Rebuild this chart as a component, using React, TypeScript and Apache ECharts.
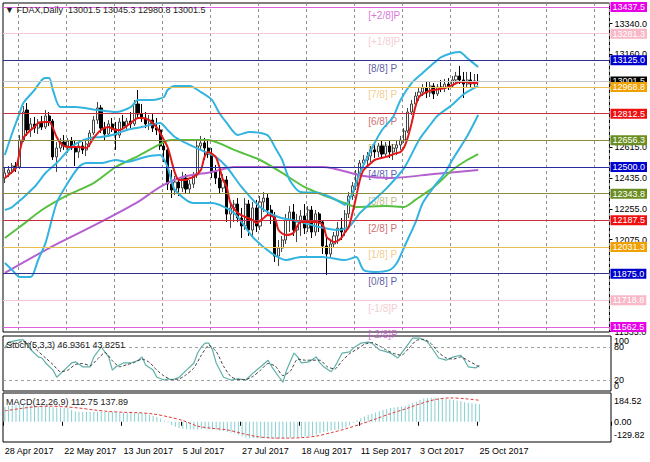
import React, { useEffect, useRef } from 'react';
import * as echarts from 'echarts';

// ---------- data ----------
const symbolName = 'FDAX,Daily';
const xTickLabels = ['28 Apr 2017', '22 May 2017', '13 Jun 2017', '5 Jul 2017', '27 Jul 2017', '18 Aug 2017', '11 Sep 2017', '3 Oct 2017', '25 Oct 2017'];
const BARS_PER_LABEL = 16;
const SLOT_COUNT = 164;

const opens = [
  12435, 12465, 12482, 12506, 12500, 12658, 12834, 12717, 12752, 12728,
  12764, 12734, 12799, 12769, 12559, 12611, 12646, 12623, 12652, 12611,
  12588, 12623, 12600, 12635, 12699, 12775, 12846, 12728, 12693, 12752,
  12723, 12687, 12764, 12740, 12769, 12752, 12869, 12810, 12787, 12752,
  12775, 12728, 12717, 12623, 12600, 12400, 12365, 12412, 12377, 12435,
  12371, 12400, 12453, 12623, 12641, 12611, 12576, 12471, 12435, 12377,
  12424, 12224, 12260, 12283, 12201, 12154, 12283, 12131, 12260, 12154,
  12295, 12318, 12248, 12213, 11978, 12025, 12072, 12189, 12236, 12131,
  12178, 12213, 12142, 12248, 12119, 12225, 12178, 12037, 11990, 12049,
  12096, 12142, 12119, 12225, 12330, 12389, 12459, 12523, 12541, 12564,
  12600, 12588, 12623, 12576, 12623, 12588, 12611, 12629, 12658, 12711,
  12822, 12869, 12916, 12939, 12963, 12934, 12975, 12928, 12969, 12963,
  12986, 12975, 13010, 13033, 13010, 12986, 13010, 12986, 13001.5,
];
const highs = [
  12494, 12506, 12523, 12529, 12687, 12857, 12875, 12787, 12793, 12781,
  12799, 12834, 12822, 12781, 12646, 12670, 12687, 12670, 12676, 12658,
  12641, 12646, 12652, 12717, 12799, 12881, 12863, 12764, 12775, 12787,
  12764, 12787, 12805, 12787, 12822, 12893, 12951, 12869, 12822, 12805,
  12810, 12787, 12746, 12670, 12623, 12482, 12447, 12435, 12471, 12459,
  12424, 12471, 12658, 12682, 12670, 12658, 12611, 12512, 12482, 12459,
  12447, 12295, 12307, 12318, 12260, 12318, 12307, 12295, 12307, 12330,
  12353, 12342, 12277, 12236, 12072, 12096, 12225, 12271, 12283, 12225,
  12248, 12283, 12271, 12271, 12248, 12236, 12189, 12084, 12072, 12119,
  12178, 12201, 12248, 12353, 12412, 12482, 12541, 12570, 12588, 12623,
  12635, 12641, 12658, 12646, 12652, 12635, 12658, 12682, 12728, 12846,
  12893, 12939, 12969, 12986, 12998, 12998, 12992, 12986, 13010, 13016,
  13021, 13033, 13057, 13092, 13057, 13057, 13057, 13045, 13045.3,
];
const lows = [
  12406, 12441, 12459, 12471, 12488, 12646, 12682, 12676, 12699, 12693,
  12717, 12723, 12740, 12541, 12471, 12588, 12600, 12582, 12600, 12506,
  12553, 12576, 12564, 12617, 12687, 12752, 12699, 12658, 12676, 12705,
  12600, 12670, 12717, 12711, 12728, 12740, 12787, 12764, 12728, 12717,
  12705, 12687, 12600, 12529, 12365, 12318, 12336, 12330, 12353, 12342,
  12347, 12377, 12435, 12600, 12541, 12553, 12435, 12400, 12342, 12353,
  12178, 12142, 12178, 12178, 12084, 12131, 12096, 12084, 12119, 12131,
  12236, 12225, 12166, 11943, 11920, 12002, 12049, 12119, 12096, 12060,
  12096, 12107, 12119, 12084, 12096, 12119, 11990, 11867, 11967, 12025,
  12049, 12072, 12096, 12201, 12307, 12365, 12447, 12494, 12506, 12529,
  12553, 12559, 12553, 12559, 12553, 12541, 12570, 12600, 12641, 12699,
  12805, 12846, 12887, 12916, 12904, 12910, 12898, 12916, 12939, 12939,
  12951, 12963, 12986, 12986, 12904, 12963, 12963, 12963, 12980.8,
];
const closes = [
  12465, 12482, 12506, 12494, 12658, 12822, 12717, 12752, 12728, 12764,
  12734, 12799, 12769, 12559, 12611, 12646, 12623, 12652, 12611, 12588,
  12623, 12600, 12635, 12699, 12775, 12846, 12728, 12693, 12752, 12723,
  12687, 12764, 12740, 12769, 12752, 12869, 12810, 12787, 12752, 12775,
  12728, 12717, 12623, 12600, 12400, 12365, 12412, 12377, 12435, 12371,
  12400, 12453, 12623, 12641, 12611, 12576, 12471, 12435, 12377, 12424,
  12224, 12260, 12283, 12201, 12154, 12283, 12131, 12260, 12154, 12295,
  12318, 12248, 12213, 11978, 12025, 12072, 12189, 12236, 12131, 12178,
  12213, 12142, 12248, 12119, 12225, 12178, 12037, 11990, 12049, 12096,
  12142, 12119, 12225, 12330, 12389, 12459, 12523, 12541, 12564, 12600,
  12588, 12623, 12576, 12623, 12588, 12611, 12629, 12658, 12711, 12822,
  12869, 12916, 12939, 12963, 12934, 12975, 12928, 12969, 12963, 12986,
  12975, 13010, 13033, 13010, 12986, 13010, 12986, 13005, 13001.5,
];

// indicator readings: [bar index, value]
const maRed = [
  [0, 12435], [1, 12453], [3, 12494], [4, 12588], [5, 12670], [7, 12717], [8, 12734], [9, 12757], [11, 12764], [12, 12764],
  [14, 12676], [15, 12641], [17, 12617], [20, 12617], [22, 12611], [24, 12670], [26, 12717], [28, 12734], [30, 12717], [31, 12717],
  [34, 12757], [36, 12787], [37, 12787], [39, 12775], [41, 12734], [42, 12699], [44, 12617], [45, 12541], [46, 12465], [47, 12424],
  [49, 12424], [50, 12435], [51, 12441], [53, 12482], [54, 12559], [55, 12588], [57, 12559], [58, 12500], [59, 12424], [60, 12383],
  [61, 12289], [63, 12230], [65, 12207], [67, 12189], [68, 12172], [70, 12201], [71, 12219], [73, 12201], [74, 12131], [76, 12101],
  [78, 12113], [80, 12178], [82, 12178], [84, 12178], [86, 12160], [87, 12090], [88, 12072], [89, 12060], [91, 12084], [92, 12119],
  [93, 12148], [94, 12230], [95, 12324], [96, 12424], [97, 12482], [99, 12523], [100, 12541], [103, 12559], [106, 12582], [107, 12588],
  [108, 12617], [109, 12676], [110, 12757], [111, 12851], [112, 12910], [114, 12939], [116, 12951], [119, 12963], [121, 12980], [123, 12998],
  [125, 12998], [126, 12992], [128, 12992],
];
const bbUpper = [
  [0, 12570], [2, 12699], [4, 12816], [5, 12875], [8, 12951], [10, 13010], [11, 13021], [12, 13021], [13, 12951], [15, 12851],
  [19, 12851], [25, 12834], [30, 12822], [34, 12851], [36, 12893], [40, 12893], [43, 12910], [44, 12951], [46, 12975], [50, 12975],
  [53, 12939], [56, 12893], [58, 12816], [60, 12758], [63, 12687], [66, 12705], [71, 12687], [73, 12617], [75, 12541], [77, 12424],
  [80, 12353], [85, 12348], [88, 12324], [91, 12289], [92, 12277], [94, 12348], [96, 12465], [99, 12600], [102, 12717], [105, 12793],
  [107, 12893], [110, 12992], [113, 13051], [116, 13109], [118, 13144], [121, 13168], [123, 13174], [125, 13139], [128, 13086],
];
const bbMiddle = [
  [0, 12248], [2, 12266], [8, 12383], [11, 12465], [14, 12523], [18, 12617], [20, 12646], [23, 12670], [26, 12676], [29, 12687],
  [33, 12717], [37, 12734], [42, 12758], [44, 12717], [46, 12676], [50, 12629], [53, 12600], [57, 12559], [60, 12500], [64, 12383],
  [69, 12266], [74, 12207], [80, 12178], [85, 12148], [90, 12131], [93, 12148], [96, 12230], [99, 12290], [103, 12370], [108, 12495],
  [112, 12658], [115, 12746], [117, 12800], [121, 12865], [124, 12925], [128, 12975],
];
const bbLower = [
  [0, 11937], [2, 11896], [4, 11855], [7, 11855], [9, 11955], [11, 12055], [14, 12289], [17, 12406], [20, 12500], [22, 12523],
  [26, 12523], [30, 12541], [33, 12529], [38, 12559], [42, 12570], [44, 12500], [45, 12424], [46, 12365], [51, 12289], [56, 12289],
  [62, 12230], [67, 12090], [72, 11997], [76, 11955], [80, 11973], [86, 11973], [92, 11955], [95, 11972], [97, 11896], [100, 11885],
  [104, 11896], [106, 11937], [108, 12031], [111, 12172], [113, 12289], [116, 12383], [119, 12465], [121, 12541], [125, 12680], [128, 12805],
];
const maGreen = [
  [0, 12084], [4, 12148], [10, 12248], [17, 12335], [24, 12406], [30, 12500], [36, 12564], [43, 12646], [45, 12658], [55, 12658],
  [62, 12600], [69, 12541], [75, 12465], [81, 12383], [86, 12336], [92, 12289], [95, 12266], [103, 12271], [108, 12266], [111, 12307],
  [116, 12383], [121, 12482], [125, 12541], [128, 12576],
];
const maPurple = [
  [0, 11879], [12, 12025], [26, 12178], [36, 12295], [42, 12383], [48, 12441], [56, 12471], [62, 12500], [74, 12500], [86, 12500],
  [97, 12447], [104, 12435], [116, 12459], [128, 12482],
];

const stochMain = [
  [0, 80], [1, 89], [4, 93], [5, 93], [7, 75], [9, 62], [10, 60], [11, 51], [13, 38], [14, 25],
  [16, 38], [18, 51], [19, 53], [21, 44], [23, 44], [24, 62], [26, 80], [28, 62], [29, 38], [30, 44],
  [32, 51], [34, 51], [36, 56], [37, 62], [38, 47], [40, 38], [41, 25], [43, 20], [44, 22], [45, 20],
  [47, 25], [49, 38], [51, 51], [52, 69], [53, 80], [54, 87], [55, 87], [56, 75], [57, 51], [59, 25],
  [61, 20], [63, 22], [65, 20], [67, 33], [69, 44], [71, 56], [72, 44], [74, 25], [75, 16], [76, 38],
  [78, 69], [79, 62], [80, 51], [82, 53], [84, 62], [85, 51], [86, 44], [88, 35], [89, 44], [91, 69],
  [93, 71], [94, 78], [96, 87], [98, 89], [99, 87], [101, 75], [103, 71], [104, 69], [106, 60], [107, 69],
  [109, 87], [110, 96], [112, 96], [114, 89], [115, 80], [117, 60], [119, 56], [121, 62], [123, 65], [124, 56],
  [125, 44], [127, 42], [128, 46.9361],
];
const stochSignal = [
  [0, 78], [2, 85], [5, 90], [7, 85], [9, 72], [11, 60], [13, 48], [15, 35], [17, 38], [19, 48],
  [21, 50], [23, 46], [25, 58], [27, 70], [29, 55], [31, 44], [33, 48], [35, 52], [37, 58], [39, 52],
  [41, 38], [43, 27], [45, 21], [47, 22], [49, 30], [51, 42], [53, 65], [55, 83], [57, 72], [59, 45],
  [61, 26], [63, 21], [65, 21], [67, 27], [69, 38], [71, 50], [73, 45], [75, 28], [77, 36], [79, 58],
  [81, 56], [83, 56], [85, 56], [87, 44], [89, 40], [91, 55], [93, 68], [95, 76], [97, 85], [99, 88],
  [101, 82], [103, 74], [105, 68], [107, 65], [109, 78], [111, 92], [113, 94], [115, 86], [117, 70], [119, 60],
  [121, 58], [123, 62], [125, 55], [128, 43.8251],
];
const stochLevels = [20, 80];
const stochRange = [0, 100];

const macdHist = [
  95, 101, 104, 106, 108, 108, 106, 104, 101, 99,
  97, 96, 95, 93, 91, 90, 89, 88, 76, 66,
  64, 63, 62, 62, 63, 64, 64, 63, 62, 61,
  60, 59, 58, 57, 57, 56, 56, 54, 50, 44,
  38, 30, 20, 8, -4, -20, -32, -40, -45, -48,
  -50, -50, -49, -48, -47, -48, -50, -52, -56, -60,
  -65, -70, -76, -84, -94, -102, -105, -106, -106, -105,
  -104, -104, -105, -107, -108, -106, -104, -102, -100, -99,
  -97, -95, -92, -88, -82, -74, -66, -62, -58, -53,
  -48, -44, -36, -22, -6, 10, 22, 34, 44, 52,
  60, 68, 76, 82, 88, 92, 95, 98, 101, 110,
  120, 128, 140, 150, 153, 154, 154, 153, 151, 148,
  144, 140, 136, 131, 125, 121, 118, 115, 112.75,
];
const macdSignal = [
  [0, 70], [4, 84], [8, 96], [12, 100], [16, 96], [20, 88], [24, 76], [28, 66], [32, 61], [36, 58],
  [40, 50], [44, 32], [48, 8], [52, -28], [56, -42], [60, -52], [64, -75], [68, -95], [72, -104], [76, -105],
  [80, -102], [84, -92], [88, -70], [92, -45], [96, -15], [100, 18], [104, 52], [108, 82], [112, 115], [116, 142],
  [120, 153], [124, 148], [128, 137.89],
];
const macdTicks = [-129.82, 0, 184.52];

const murreyLevels = [11562.5, 11718.75, 11875, 12031.25, 12187.5, 12343.75, 12500, 12656.25, 12812.5, 12968.75, 13125, 13281.25, 13437.5];
const murreyNames = ['[-2/8]P', '[-1/8]P', '[0/8] P', '[1/8] P', '[2/8] P', '[3/8] P', '[4/8] P', '[5/8] P', '[6/8] P', '[7/8] P', '[8/8] P', '[+1/8]P', '[+2/8]P'];
const MURREY_LABEL_BAR = 98;
const priceTicks = [11535, 12075, 12255, 12435, 12615, 13160, 13340];
const priceMin = 11533;
const priceMax = 13461;

// ---------- styles ----------
const FONT = 'Liberation Sans, Arial, sans-serif';
const murreyLineColors = ['#e060e0', '#f4c8d0', '#303090', '#e8c050', '#c83040', '#8c8c3c', '#2a2aa0', '#8c8c3c', '#c83040', '#e8c050', '#303090', '#f4c8d0', '#e060e0'];
const murreyBoxColors = ['#e800e8', '#f8b8c8', '#0000cc', '#f0a000', '#ee1010', '#6b8e23', '#0000cc', '#6b8e23', '#ee1010', '#f0a000', '#0000cc', '#f8b8c8', '#e800e8'];
const murreyTextColors = ['#d050d0', '#f0c0c8', '#34348a', '#f0c070', '#c04848', '#a8a868', '#3030a0', '#a8a868', '#c04848', '#f0c070', '#34348a', '#f0c0c8', '#d050d0'];

export default function App() {
  const ref = useRef<HTMLDivElement>(null);
  useEffect(() => {
    document.body.style.margin = '0';
    if (!ref.current) return;
    const chart = echarts.init(ref.current, undefined, { renderer: 'svg' });

    const categories = Array.from({ length: SLOT_COUNT }, (_, i) =>
      i % BARS_PER_LABEL === 0 && xTickLabels[i / BARS_PER_LABEL] ? xTickLabels[i / BARS_PER_LABEL] : ''
    );
    const isLabelTick = (i: number) => i % BARS_PER_LABEL === 0 && !!xTickLabels[i / BARS_PER_LABEL];
    const candleData = opens.map((o, i) => [o, closes[i], lows[i], highs[i]]);
    const last = opens.length - 1;
    const lastPrice = closes[last];

    const lineSeries = (data: number[][], color: string, width: number, z: number, extra: any = {}) => ({
      type: 'line', xAxisIndex: 0, yAxisIndex: 0, data, symbol: 'none', showSymbol: false, smooth: 0.25,
      lineStyle: { color, width }, z, silent: true, ...extra,
    });

    const levelMarks: any[] = [
      { yAxis: lastPrice, lineStyle: { color: '#c8c8c8' }, label: { backgroundColor: '#000000' } },
      ...murreyLevels.map((lv, i) => ({
        yAxis: lv,
        lineStyle: { color: murreyLineColors[i] },
        label: { backgroundColor: murreyBoxColors[i] },
      })),
    ];

    const axisTextStyle = { fontSize: 9, color: '#000', fontFamily: FONT };
    const hiddenAxisParts = { axisLine: { show: false }, splitLine: { show: false }, axisTick: { show: false } };

    const option: any = {
      animation: false,
      backgroundColor: '#ffffff',
      textStyle: { fontFamily: FONT },
      grid: [
        { left: 3, top: 3, width: 608, height: 329, show: true, borderColor: '#000', borderWidth: 1, backgroundColor: '#fff' },
        { left: 3, top: 336, width: 608, height: 55, show: true, borderColor: '#000', borderWidth: 1, backgroundColor: '#fff' },
        { left: 3, top: 393, width: 608, height: 49, show: true, borderColor: '#000', borderWidth: 1, backgroundColor: '#fff' },
      ],
      xAxis: [
        {
          type: 'category', gridIndex: 0, data: categories, boundaryGap: true,
          axisLine: { show: false }, axisTick: { show: false }, axisLabel: { show: false },
          splitLine: { show: true, interval: (i: number) => i % 13 === 4, lineStyle: { color: '#8a948a', type: [3, 3], width: 1 } },
        },
        {
          type: 'category', gridIndex: 1, data: categories, boundaryGap: true,
          axisLine: { show: false }, axisTick: { show: false }, axisLabel: { show: false }, splitLine: { show: false },
        },
        {
          type: 'category', gridIndex: 2, data: categories, boundaryGap: true,
          axisLine: { show: false },
          axisTick: { show: true, interval: (i: number) => isLabelTick(i), length: 4, lineStyle: { color: '#000' } },
          axisLabel: { show: true, interval: (i: number) => isLabelTick(i), align: 'left', margin: 4, hideOverlap: false, ...axisTextStyle },
          splitLine: { show: false },
        },
      ],
      yAxis: [
        {
          type: 'value', gridIndex: 0, position: 'right', min: priceMin, max: priceMax,
          axisLine: { show: false }, splitLine: { show: false },
          axisTick: { show: true, customValues: priceTicks, length: 3, lineStyle: { color: '#000' } },
          axisLabel: { show: true, customValues: priceTicks, margin: 5, hideOverlap: false, formatter: (v: number) => v.toFixed(1), ...axisTextStyle },
        },
        {
          // stochastic levels 20 / 80
          type: 'value', gridIndex: 1, position: 'right', min: stochRange[0], max: stochRange[1], ...hiddenAxisParts,
          axisLabel: { show: true, customValues: stochLevels, margin: 3, hideOverlap: false, ...axisTextStyle },
        },
        {
          type: 'value', gridIndex: 2, position: 'right', min: macdTicks[0], max: macdTicks[2], ...hiddenAxisParts,
          axisLabel: {
            show: true, customValues: macdTicks, margin: 3, hideOverlap: false, ...axisTextStyle,
            formatter: (v: number) => (v === macdTicks[2] ? `{dn|${v.toFixed(2)}}` : v === macdTicks[0] ? `{up|${v.toFixed(2)}}` : v.toFixed(2)),
            rich: {
              dn: { ...axisTextStyle, padding: [15, 0, 0, 0] },
              up: { ...axisTextStyle, padding: [0, 0, 15, 0] },
            },
          },
        },
        {
          // stochastic range labels 0 / 100 (separate axis so they may overlap the level labels)
          type: 'value', gridIndex: 1, position: 'right', min: stochRange[0], max: stochRange[1], ...hiddenAxisParts,
          axisLabel: {
            show: true, customValues: stochRange, margin: 3, hideOverlap: false, showMinLabel: true, showMaxLabel: true, ...axisTextStyle,
            formatter: (v: number) => (v === stochRange[1] ? `{dn|${v}}` : `{up|${v}}`),
            rich: {
              dn: { ...axisTextStyle, padding: [10, 0, 0, 0] },
              up: { ...axisTextStyle, padding: [0, 0, 10, 0] },
            },
          },
        },
      ],
      series: [
        {
          type: 'line', name: 'levels', xAxisIndex: 0, yAxisIndex: 0, data: closes,
          symbol: 'none', showSymbol: false, lineStyle: { opacity: 0 }, silent: true, z: 1,
          markLine: {
            silent: true, symbol: ['none', 'none'], animation: false,
            lineStyle: { type: 'solid', width: 1 },
            label: {
              show: true, position: 'end', distance: 1, color: '#ffffff', fontSize: 9, fontFamily: FONT,
              padding: [1, 2, 0, 2], formatter: (p: any) => Number(p.value).toFixed(1),
            },
            data: levelMarks,
          },
        },
        {
          type: 'scatter', name: 'murreyLabels', xAxisIndex: 0, yAxisIndex: 0, symbolSize: 0, silent: true, z: 1,
          data: murreyLevels.map((lv, i) => ({
            value: [MURREY_LABEL_BAR, lv],
            label: { color: murreyTextColors[i] },
          })),
          label: {
            show: true, position: [1, 3], align: 'left', verticalAlign: 'top', fontSize: 10, fontFamily: FONT,
            formatter: (p: any) => murreyNames[p.dataIndex],
          },
        },
        {
          type: 'candlestick', name: 'FDAX', xAxisIndex: 0, yAxisIndex: 0, data: candleData, barWidth: 2.6, z: 2, silent: true,
          itemStyle: { color: '#ffffff', color0: '#000000', borderColor: '#444444', borderColor0: '#000000', borderWidth: 1 },
        },
        lineSeries(maPurple, '#b460d0', 2, 3),
        lineSeries(maGreen, '#58c040', 2, 3),
        lineSeries(bbLower, '#33b4e0', 2, 3),
        lineSeries(bbUpper, '#33b4e0', 2, 3),
        lineSeries(bbMiddle, '#33b4e0', 2, 3),
        lineSeries(maRed, '#e01818', 2, 4),
        {
          type: 'line', xAxisIndex: 1, yAxisIndex: 1, data: stochMain, symbol: 'none', showSymbol: false, silent: true,
          lineStyle: { color: '#5fb0a8', width: 1.2 }, z: 3,
          markLine: {
            silent: true, symbol: ['none', 'none'], animation: false, label: { show: false },
            lineStyle: { color: '#a0a0a0', type: [3, 3], width: 1 },
            data: stochLevels.map((v) => ({ yAxis: v })),
          },
        },
        {
          type: 'line', xAxisIndex: 1, yAxisIndex: 1, data: stochSignal, symbol: 'none', showSymbol: false, silent: true,
          smooth: 0.2, lineStyle: { color: '#404040', width: 1, type: [3, 2] }, z: 3,
        },
        {
          type: 'bar', xAxisIndex: 2, yAxisIndex: 2, data: macdHist, barWidth: 1, silent: true,
          itemStyle: { color: '#86cfd0' }, z: 2,
        },
        {
          type: 'line', xAxisIndex: 2, yAxisIndex: 2, data: macdSignal, symbol: 'none', showSymbol: false, silent: true,
          smooth: 0.3, lineStyle: { color: '#e03c3c', width: 1, type: [3, 2] }, z: 3,
        },
      ],
      graphic: [
        {
          type: 'text', left: 5, top: 5, z: 10, silent: true,
          style: {
            text: `▼ ${symbolName}  ${opens[last].toFixed(1)} ${highs[last].toFixed(1)} ${lows[last].toFixed(1)} ${closes[last].toFixed(1)}`,
            fill: '#202020', fontSize: 9, fontFamily: FONT,
          },
        },
        {
          type: 'text', left: 6, top: 340, z: 10, silent: true,
          style: {
            text: `Stoch(5,3,3) ${stochMain[stochMain.length - 1][1].toFixed(4)} ${stochSignal[stochSignal.length - 1][1].toFixed(4)}`,
            fill: '#202020', fontSize: 9, fontFamily: FONT,
          },
        },
        {
          type: 'text', left: 6, top: 397, z: 10, silent: true,
          style: {
            text: `MACD(12,26,9) ${macdHist[macdHist.length - 1].toFixed(2)} ${macdSignal[macdSignal.length - 1][1].toFixed(2)}`,
            fill: '#202020', fontSize: 9, fontFamily: FONT,
          },
        },
      ],
    };

    chart.setOption(option);
    return () => chart.dispose();
  }, []);

  return <div ref={ref} style={{ width: 650, height: 462 }} />;
}
